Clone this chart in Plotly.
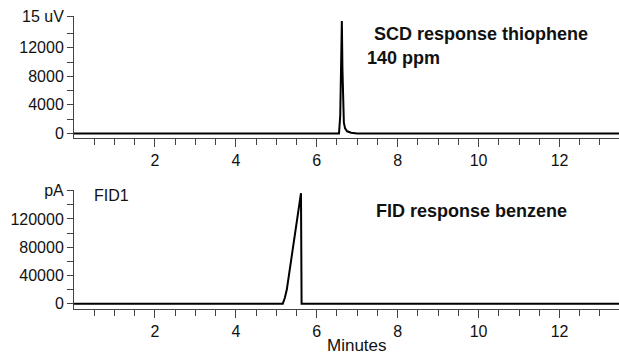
import plotly.graph_objects as go

# ---- data ----
scd_time = [0.0, 6.55, 6.58, 6.60, 6.62, 6.635, 6.65, 6.67, 6.70, 6.75, 6.85, 7.0, 13.47]
scd_signal = [0, 0, 2500, 9000, 15750, 9000, 3500, 1500, 700, 300, 100, 0, 0]

fid_time = [0.0, 5.16, 5.21, 5.26, 5.61, 5.625, 13.47]
fid_signal = [0, 0, 8000, 20000, 156500, 0, 0]

x_major = [2, 4, 6, 8, 10, 12]
x_major_text = ["2", "4", "6", "8", "10", "12"]

scd_ticks = [0, 4000, 8000, 12000, 16450]
scd_ticktext = ["0", "4000", "8000", "12000", "15 uV"]
scd_minor = [2000, 6000, 10000, 14000]

fid_ticks = [0, 40000, 80000, 120000, 161000]
fid_ticktext = ["0", "40000", "80000", "120000", "pA"]
fid_minor = [20000, 60000, 100000, 140000]

FONT = "Liberation Sans, Arial, sans-serif"
AX = "#444"
TXT = "#111"

fig = go.Figure()
fig.add_trace(go.Scatter(x=scd_time, y=scd_signal, mode="lines",
                         line=dict(color="black", width=2), xaxis="x", yaxis="y",
                         showlegend=False, hoverinfo="skip"))
fig.add_trace(go.Scatter(x=fid_time, y=fid_signal, mode="lines",
                         line=dict(color="black", width=2), xaxis="x2", yaxis="y2",
                         showlegend=False, hoverinfo="skip"))

def xax(anchor):
    return dict(range=[0, 13.47], domain=[0, 1], anchor=anchor, showgrid=False, zeroline=False,
                showline=True, linecolor=AX, linewidth=1, ticks="outside", ticklen=8,
                tickcolor=AX, tickwidth=1, tickmode="array", tickvals=x_major,
                ticktext=x_major_text, tickfont=dict(family=FONT, size=16, color=TXT),
                minor=dict(tickmode="array", tickvals=[i * 0.5 for i in range(1, 27)],
                           ticklen=6, tickcolor=AX, tickwidth=1, ticks="outside", showgrid=False),
                automargin=False)

def yax(rng, dom, tv, tt, mv, anchor):
    return dict(range=rng, domain=dom, anchor=anchor, showgrid=False, zeroline=False,
                showline=True, linecolor=AX, linewidth=1, ticks="outside", ticklen=6,
                tickcolor=AX, tickwidth=1, tickmode="array", tickvals=tv, ticktext=tt,
                tickfont=dict(family=FONT, size=16, color=TXT),
                minor=dict(tickmode="array", tickvals=mv, ticklen=6, tickcolor=AX,
                           tickwidth=1, ticks="outside", showgrid=False),
                automargin=False)

fig.update_layout(
    width=619, height=356,
    margin=dict(l=74, r=0, t=16, b=47),
    paper_bgcolor="white", plot_bgcolor="white",
    xaxis=xax("y"),
    xaxis2=xax("y2"),
    yaxis=yax([-680, 16450], [0.5826, 1.0], scd_ticks, scd_ticktext, scd_minor, "x"),
    yaxis2=yax([-7500, 161000], [0, 0.4061], fid_ticks, fid_ticktext, fid_minor, "x2"),
    annotations=[
        dict(text="<b>SCD response thiophene</b>", xref="paper", yref="paper", x=0.546, y=0.9396,
             xanchor="left", yanchor="middle", showarrow=False,
             font=dict(family=FONT, size=18, color=TXT)),
        dict(text="<b>140 ppm</b>", xref="paper", yref="paper", x=0.5345, y=0.856,
             xanchor="left", yanchor="middle", showarrow=False,
             font=dict(family=FONT, size=18, color=TXT)),
        dict(text="<b>FID response benzene</b>", xref="paper", yref="paper", x=0.5505, y=0.336,
             xanchor="left", yanchor="middle", showarrow=False,
             font=dict(family=FONT, size=18, color=TXT)),
        dict(text="FID1", xref="paper", yref="paper", x=0.0325, y=0.389,
             xanchor="left", yanchor="middle", showarrow=False,
             font=dict(family=FONT, size=16, color=TXT)),
        dict(text="Minutes", xref="paper", yref="paper", x=0.519, y=-0.126,
             xanchor="center", yanchor="middle", showarrow=False,
             font=dict(family=FONT, size=17, color=TXT)),
    ],
)

fig.write_html("out.html", config={"displayModeBar": False},
               post_script="document.body.style.margin='0px';")
